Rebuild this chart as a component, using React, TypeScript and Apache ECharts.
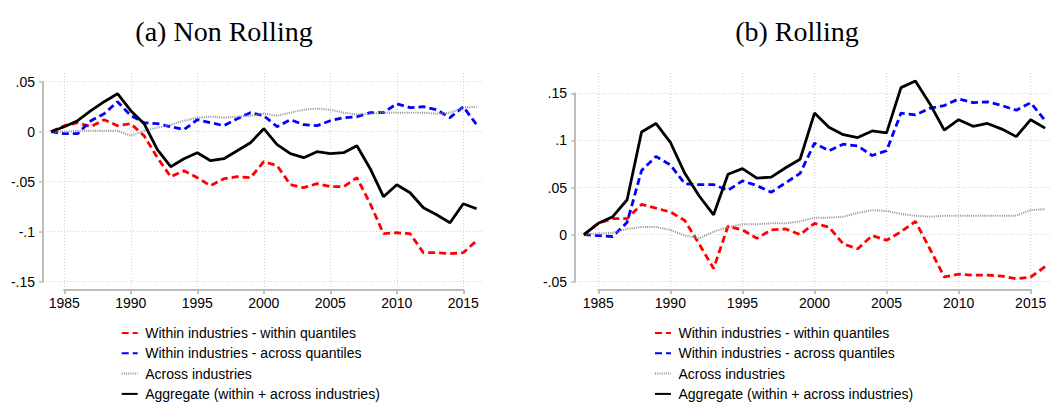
import React, { useEffect, useRef } from "react";
import * as echarts from "echarts";

const years = [1984, 1985, 1986, 1987, 1988, 1989, 1990, 1991, 1992, 1993, 1994, 1995, 1996, 1997, 1998, 1999, 2000, 2001, 2002, 2003, 2004, 2005, 2006, 2007, 2008, 2009, 2010, 2011, 2012, 2013, 2014, 2015, 2016];

const seriesNames = [
  "Within industries - within quantiles",
  "Within industries - across quantiles",
  "Across industries",
  "Aggregate (within + across industries)",
];

// (a) Non Rolling
const nrWithinWithin = [0, 0.006, 0.009, 0.005, 0.012, 0.006, 0.008, -0.004, -0.026, -0.045, -0.039, -0.046, -0.054, -0.047, -0.045, -0.046, -0.030, -0.034, -0.053, -0.056, -0.052, -0.055, -0.055, -0.046, -0.072, -0.102, -0.101, -0.102, -0.121, -0.121, -0.122, -0.121, -0.109];
const nrWithinAcross = [0, -0.002, -0.002, 0.011, 0.018, 0.030, 0.016, 0.009, 0.008, 0.005, 0.002, 0.012, 0.009, 0.006, 0.013, 0.019, 0.016, 0.005, 0.012, 0.007, 0.006, 0.011, 0.014, 0.015, 0.019, 0.019, 0.028, 0.024, 0.025, 0.022, 0.014, 0.025, 0.007];
const nrAcross = [0, 0, 0.001, 0.001, 0.001, 0.001, -0.004, 0.001, 0.004, 0.007, 0.011, 0.014, 0.015, 0.014, 0.015, 0.016, 0.018, 0.016, 0.019, 0.022, 0.023, 0.022, 0.019, 0.017, 0.018, 0.019, 0.019, 0.019, 0.019, 0.018, 0.019, 0.024, 0.025];
const nrAggregate = [0, 0.005, 0.011, 0.021, 0.030, 0.038, 0.021, 0.008, -0.018, -0.035, -0.027, -0.021, -0.029, -0.027, -0.019, -0.011, 0.003, -0.013, -0.022, -0.026, -0.020, -0.022, -0.021, -0.014, -0.037, -0.065, -0.053, -0.061, -0.076, -0.083, -0.091, -0.072, -0.077];

// (b) Rolling
const rWithinWithin = [0, 0.012, 0.017, 0.017, 0.032, 0.028, 0.024, 0.015, -0.010, -0.036, 0.009, 0.005, -0.004, 0.005, 0.006, 0.000, 0.012, 0.008, -0.010, -0.015, -0.001, -0.006, 0.003, 0.014, -0.015, -0.045, -0.042, -0.043, -0.043, -0.044, -0.047, -0.045, -0.034];
const rWithinAcross = [0, -0.001, -0.002, 0.013, 0.068, 0.083, 0.074, 0.054, 0.053, 0.053, 0.047, 0.057, 0.052, 0.045, 0.055, 0.065, 0.097, 0.089, 0.096, 0.094, 0.084, 0.089, 0.129, 0.127, 0.134, 0.137, 0.144, 0.140, 0.141, 0.137, 0.132, 0.140, 0.121];
const rAcross = [0, 0.001, 0.002, 0.006, 0.008, 0.008, 0.005, -0.001, -0.004, 0.003, 0.008, 0.011, 0.011, 0.012, 0.012, 0.014, 0.018, 0.018, 0.019, 0.023, 0.026, 0.025, 0.022, 0.020, 0.019, 0.020, 0.020, 0.020, 0.020, 0.020, 0.020, 0.026, 0.027];
const rAggregate = [0, 0.012, 0.019, 0.037, 0.109, 0.118, 0.098, 0.065, 0.041, 0.021, 0.064, 0.070, 0.060, 0.061, 0.071, 0.080, 0.129, 0.114, 0.106, 0.103, 0.110, 0.108, 0.156, 0.163, 0.139, 0.111, 0.122, 0.115, 0.118, 0.112, 0.104, 0.122, 0.113];

const leftYTicks = { min: -0.15, max: 0.05, interval: 0.05 };
const rightYTicks = { min: -0.05, max: 0.15, interval: 0.05 };
const xTicks = { min: 1985, max: 2015, interval: 5 };

const FONT = "'Liberation Sans', Arial, sans-serif";
const AXIS_GRAY = "#bcbcbc";
const GRID_GRAY = "#d2d2d2";

const styles = [
  { color: "#ff0000", type: [7, 4] as any, width: 2.8 },
  { color: "#0000ff", type: [7, 4] as any, width: 2.8 },
  { color: "#8f8f8f", type: [1, 1.2] as any, width: 2 },
  { color: "#000000", type: "solid" as any, width: 2.8 },
];

function fmtY(v: number) {
  if (Math.abs(v) < 1e-9) return "0";
  const s = String(+v.toFixed(2));
  return s.replace("0.", ".");
}

function pairs(vals: number[]) {
  return years.map((y, i) => [y, vals[i]]);
}

type Panel = {
  axisBox: { left: number; top: number; width: number; height: number };
  plotBox: { left: number; top: number; right: number; bottom: number };
  yTicks: { min: number; max: number; interval: number };
};

const panels: Panel[] = [
  {
    axisBox: { left: 64.3, top: 81.7, width: 399, height: 200 },
    plotBox: { left: 43, top: 73, right: 483, bottom: 290 },
    yTicks: leftYTicks,
  },
  {
    axisBox: { left: 598.3, top: 93.3, width: 432.4, height: 188.4 },
    plotBox: { left: 575, top: 73, right: 1050, bottom: 290 },
    yTicks: rightYTicks,
  },
];

export default function App() {
  const ref = useRef<HTMLDivElement>(null);
  useEffect(() => {
    if (!ref.current) return;
    const chart = echarts.init(ref.current, undefined, { renderer: "svg" });

    const grids: any[] = [];
    const xAxis: any[] = [];
    const yAxis: any[] = [];
    const dataAxisIndex: number[] = [];

    const gridLineStyle = () => ({ color: GRID_GRAY, width: 1, type: [1, 2] as any });
    const axisLine = () => ({ show: true, onZero: true, lineStyle: { color: AXIS_GRAY, width: 2 } });
    const axisTick = () => ({ show: true, length: 4, lineStyle: { color: AXIS_GRAY, width: 1.5 } });
    const hiddenAxis = (gridIndex: number, min: number, max: number) => ({
      type: "value",
      gridIndex,
      min,
      max,
      axisLine: { show: false },
      axisTick: { show: false },
      axisLabel: { show: false },
      splitLine: { show: false },
    });

    panels.forEach((p) => {
      const a = p.axisBox;
      const b = p.plotBox;
      const base = grids.length;
      // 0: x axis + vertical grid lines (tick range horizontally, full plot height)
      grids.push({ left: a.left, top: b.top, width: a.width, height: b.bottom - b.top });
      xAxis.push({
        type: "value",
        gridIndex: base,
        position: "bottom",
        ...xTicks,
        axisLine: axisLine(),
        axisTick: axisTick(),
        axisLabel: { color: "#000", fontSize: 14, fontFamily: FONT, margin: 6, formatter: (v: number) => String(v) },
        splitLine: { show: true, lineStyle: gridLineStyle() },
      });
      yAxis.push(hiddenAxis(base, 0, 1));
      // 1: y axis + horizontal grid lines (tick range vertically, full plot width)
      grids.push({ left: b.left, top: a.top, width: b.right - b.left, height: a.height });
      xAxis.push(hiddenAxis(base + 1, 0, 1));
      yAxis.push({
        type: "value",
        gridIndex: base + 1,
        position: "left",
        ...p.yTicks,
        axisLine: axisLine(),
        axisTick: axisTick(),
        axisLabel: { color: "#000", fontSize: 14, fontFamily: FONT, margin: 8, formatter: fmtY },
        splitLine: { show: true, lineStyle: gridLineStyle() },
      });
      // 2: data grid = full plot region, same scale as the axes
      const pxPerYear = a.width / (xTicks.max - xTicks.min);
      const pxPerUnit = a.height / (p.yTicks.max - p.yTicks.min);
      grids.push({ left: b.left, top: b.top, width: b.right - b.left, height: b.bottom - b.top });
      xAxis.push({
        type: "value",
        gridIndex: base + 2,
        show: false,
        min: xTicks.min - (a.left - b.left) / pxPerYear,
        max: xTicks.max + (b.right - (a.left + a.width)) / pxPerYear,
        splitLine: { show: false },
      });
      yAxis.push({
        type: "value",
        gridIndex: base + 2,
        show: false,
        min: p.yTicks.min - (b.bottom - (a.top + a.height)) / pxPerUnit,
        max: p.yTicks.max + (a.top - b.top) / pxPerUnit,
        splitLine: { show: false },
      });
      dataAxisIndex.push(base + 2);
      // 3: thin strip under the plot: top-positioned x axis line with inward ticks (axis line at plot bottom)
      grids.push({ left: a.left, top: b.bottom, width: a.width, height: 12 });
      xAxis.push({
        type: "value",
        gridIndex: base + 3,
        position: "top",
        ...xTicks,
        axisLine: { show: true, onZero: false, lineStyle: { color: AXIS_GRAY, width: 2 } },
        axisTick: { show: true, inside: true, length: 4, lineStyle: { color: AXIS_GRAY, width: 1.5 } },
        axisLabel: { show: false },
        splitLine: { show: false },
      });
      yAxis.push(hiddenAxis(base + 3, -1, 0));
    });

    const mk = (name: string, vals: number[], s: any, axisIndex: number) => ({
      type: "line",
      name,
      data: pairs(vals),
      xAxisIndex: axisIndex,
      yAxisIndex: axisIndex,
      symbol: "none",
      showSymbol: false,
      clip: false,
      lineStyle: { color: s.color, width: s.width, type: s.type },
      itemStyle: { color: s.color },
    });

    const leftSets = [nrWithinWithin, nrWithinAcross, nrAcross, nrAggregate];
    const rightSets = [rWithinWithin, rWithinAcross, rAcross, rAggregate];
    const series: any[] = [];
    leftSets.forEach((d, i) => series.push(mk(seriesNames[i], d, styles[i], dataAxisIndex[0])));
    rightSets.forEach((d, i) => series.push(mk(seriesNames[i], d, styles[i], dataAxisIndex[1])));

    const legendBase = {
      orient: "vertical",
      top: 326,
      padding: 0,
      itemWidth: 16,
      itemHeight: 14,
      itemGap: 6.3,
      selectedMode: false,
      itemStyle: { opacity: 0 },
      textStyle: { color: "#000", fontSize: 14, fontFamily: FONT, padding: [0, 0, 0, 2.5] },
      data: seriesNames,
    };

    const titleStyle = {
      fontSize: 28,
      fontFamily: "'Liberation Serif', 'DejaVu Serif', serif",
      fill: "#000",
      align: "center",
      verticalAlign: "middle",
    };

    chart.setOption({
      animation: false,
      backgroundColor: "#ffffff",
      grid: grids,
      xAxis,
      yAxis,
      series,
      legend: [
        { ...legendBase, left: 120.7 },
        { ...legendBase, left: 654 },
      ],
      graphic: [
        { type: "text", x: 224, y: 31, style: { ...titleStyle, text: "(a) Non Rolling" } },
        { type: "text", x: 797, y: 31, style: { ...titleStyle, text: "(b) Rolling" } },
      ],
    });

    return () => chart.dispose();
  }, []);

  return (
    <div
      ref={ref}
      style={{ position: "fixed", left: 0, top: 0, width: 1050, height: 402, background: "#fff" }}
    />
  );
}
